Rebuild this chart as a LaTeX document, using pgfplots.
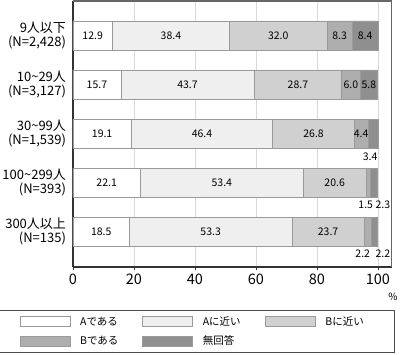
\documentclass[border=0pt]{standalone}
\usepackage{fontspec}
\setmainfont{Noto Sans CJK JP}
\usepackage{pgfplots}
\pgfplotsset{compat=1.18}
\usepackage{pgfplotstable}
\definecolor{cA}{HTML}{FFFFFF}
\definecolor{cB}{HTML}{EFEFEF}
\definecolor{cC}{HTML}{D0D0D0}
\definecolor{cD}{HTML}{AEAEAE}
\definecolor{cE}{HTML}{8F8F8F}
\definecolor{edge}{HTML}{9A9A9A}
\pgfplotsset{legrect/.style={legend image code/.code={\draw[##1,line width=0.6pt] (0pt,-5pt) rectangle (50pt,5pt);}}}

\pgfplotstableread{
y  A    B    C    D   E
4  12.9 38.4 32.0 8.3 8.4
3  15.7 43.7 28.7 6.0 5.8
2  19.1 46.4 26.8 4.4 3.4
1  22.1 53.4 20.6 1.5 2.3
0  18.5 53.3 23.7 2.2 2.2
}\data

\pgfplotstableread{
x      y     lbl
6.45   4     12.9
32.10  4     38.4
67.30  4     32.0
87.45  4     8.3
95.80  4     8.4
7.85   3     15.7
37.55  3     43.7
73.75  3     28.7
91.10  3     6.0
97.00  3     5.8
9.55   2     19.1
42.30  2     46.4
78.90  2     26.8
94.50  2     4.4
11.05  1     22.1
48.80  1     53.4
85.80  1     20.6
9.25   0     18.5
45.15  0     53.3
83.65  0     23.7
}\inlabels

\pgfplotstableread{
x      y     lbl
97.4   1.53  3.4
96.0   0.55  1.5
101.6  0.55  2.3
95.0  -0.46  2.2
101.6 -0.46  2.2
}\outlabels

\begin{document}
\begin{tikzpicture}
\path[use as bounding box] (0pt,0pt) rectangle (400pt,355pt);
\begin{axis}[
  at={(73pt,88pt)}, anchor=south west,
  scale only axis, width=319pt, height=266pt,
  xbar stacked, bar width=0.59,
  xmin=0, xmax=104.6, ymin=-0.72, ymax=4.70,
  ytick={0,1,2,3,4},
  yticklabels={{300人以上\\(N=135)},{100\textasciitilde299人\\(N=393)},{30\textasciitilde99人\\(N=1,539)},{10\textasciitilde29人\\(N=3,127)},{9人以下\\(N=2,428)}},
  yticklabel style={align=right, font=\fontsize{13}{14.5}\selectfont},
  ytick style={draw=none},
  xtick={0,20,40,60,80,100},
  xmajorgrids, grid style={color=black!15, line width=0.8pt},
  tick align=outside, major tick length=3.5pt,
  xtick style={color=black!80, line width=0.8pt},
  xticklabel style={font=\fontsize{14.5}{15}\selectfont},
  /pgf/number format/assume math mode=true,
  axis x line*=bottom, axis y line*=left,
  axis line style={-, line width=1.1pt, color=black!80},
  legend columns=3,
  legend style={at={(axis description cs:0.3824,-0.2425)}, anchor=center,
    draw=black!70, line width=0.8pt, inner xsep=24pt, inner ysep=4pt,
    font=\fontsize{10.5}{12}\selectfont, row sep=5pt,
    /tikz/every even column/.append style={column sep=17pt},
    /tikz/every odd column/.append style={column sep=8pt},
    cells={anchor=west}},
]
\addplot[fill=cA, draw=edge, line width=0.6pt, legrect] table[x=A, y=y] {\data};
\addlegendentry{\makebox[43pt][l]{Aである}}
\addplot[fill=cB, draw=edge, line width=0.6pt, legrect] table[x=B, y=y] {\data};
\addlegendentry{\makebox[43pt][l]{Aに近い}}
\addplot[fill=cC, draw=edge, line width=0.6pt, legrect] table[x=C, y=y] {\data};
\addlegendentry{\makebox[43pt][l]{Bに近い}}
\addplot[fill=cD, draw=edge, line width=0.6pt, legrect] table[x=D, y=y] {\data};
\addlegendentry{\makebox[43pt][l]{Bである}}
\addplot[fill=cE, draw=edge, line width=0.6pt, legrect] table[x=E, y=y] {\data};
\addlegendentry{\makebox[43pt][l]{無回答}}
\draw[color=black!60, line width=1.2pt] (axis description cs:0,1) -- (axis description cs:1,1) -- (axis description cs:1,0);
\end{axis}
\begin{axis}[
  at={(73pt,88pt)}, anchor=south west,
  scale only axis, width=319pt, height=266pt,
  xmin=0, xmax=104.6, ymin=-0.72, ymax=4.70,
  hide axis, clip=false,
]
\addplot[draw=none, mark=none, nodes near coords, point meta=explicit symbolic,
  every node near coord/.append style={anchor=center, font=\fontsize{10.5}{12}\selectfont, text=black}]
  table[x=x, y=y, meta=lbl] {\inlabels};
\addplot[draw=none, mark=none, nodes near coords, point meta=explicit symbolic,
  every node near coord/.append style={anchor=center, font=\fontsize{10.5}{12}\selectfont, text=black}]
  table[x=x, y=y, meta=lbl] {\outlabels};
\end{axis}
\node[font=\fontsize{10}{12}\selectfont] at (393pt,58pt) {\%};
\end{tikzpicture}
\end{document}
